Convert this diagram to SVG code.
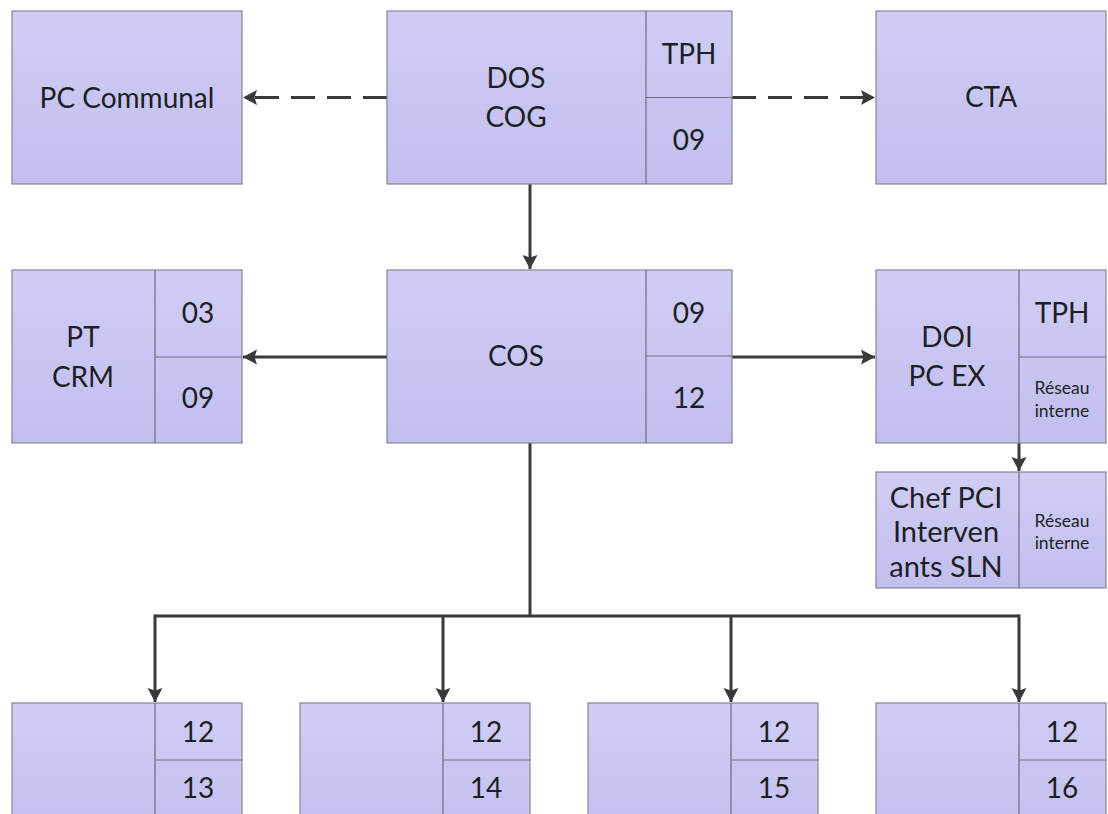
<svg xmlns="http://www.w3.org/2000/svg" width="1108" height="814" viewBox="0 0 1108 814">
  <defs>
    <linearGradient id="fill" x1="0" y1="0" x2="0" y2="1">
      <stop offset="0" stop-color="#d0cdf5"/>
      <stop offset="1" stop-color="#c2bef0"/>
    </linearGradient>
    <marker id="arrow" markerUnits="userSpaceOnUse" markerWidth="18" markerHeight="18" viewBox="0 0 18 18" refX="16" refY="9" orient="auto">
      <path d="M2,1.5 L16,9 L2,16.5 L4.5,9 z" fill="#3a3a3a"/>
    </marker>
  </defs>
  <style>
    .box { fill: url(#fill); stroke: #858596; stroke-width: 1.2; }
    .div { stroke: #6e6e80; stroke-width: 1.2; fill: none; }
    .t { font-family: Lato, "Open Sans", "Liberation Sans", sans-serif; font-size: 28px; fill: #1e1e24; text-anchor: middle; }
    .big { font-size: 29px; }
    .s { font-family: Lato, "Open Sans", "Liberation Sans", sans-serif; font-size: 17.5px; fill: #1e1e24; text-anchor: middle; }
    .c { stroke: #3a3a3a; stroke-width: 3; fill: none; }
    .dash { stroke-dasharray: 24 12; }
  </style>
  <rect width="1108" height="814" fill="#ffffff"/>

  <!-- connectors -->
  <g id="connectors">
    <path class="c dash" d="M387,97.5 L243,97.5" marker-end="url(#arrow)"/>
    <path class="c dash" d="M732,97.5 L875,97.5" marker-end="url(#arrow)"/>
    <path class="c" d="M530,184 L530,269" marker-end="url(#arrow)"/>
    <path class="c" d="M387,357 L243,357" marker-end="url(#arrow)"/>
    <path class="c" d="M732,357 L875,357" marker-end="url(#arrow)"/>
    <path class="c" d="M1019,443 L1019,471" marker-end="url(#arrow)"/>
    <path class="c" d="M530,443 L530,616"/>
    <path class="c" d="M155,616 L1019,616"/>
    <path class="c" d="M155,614.5 L155,702" marker-end="url(#arrow)"/>
    <path class="c" d="M443,616 L443,702" marker-end="url(#arrow)"/>
    <path class="c" d="M731,616 L731,702" marker-end="url(#arrow)"/>
    <path class="c" d="M1019,614.5 L1019,702" marker-end="url(#arrow)"/>
  </g>

  <!-- top row -->
  <g id="pc-communal">
    <rect class="box" x="12" y="11" width="230" height="173"/>
    <text class="t" x="127" y="108">PC Communal</text>
  </g>
  <g id="dos-cog">
    <rect class="box" x="387" y="11" width="345" height="173"/>
    <path class="div" d="M646,11 V184 M646,97.5 H732"/>
    <text class="t" x="516" y="88">DOS</text>
    <text class="t" x="516" y="127">COG</text>
    <text class="t" x="689" y="64">TPH</text>
    <text class="t" x="689" y="150">09</text>
  </g>
  <g id="cta">
    <rect class="box" x="876" y="11" width="230" height="173"/>
    <text class="t" x="991" y="107">CTA</text>
  </g>

  <!-- middle row -->
  <g id="pt-crm">
    <rect class="box" x="12" y="270" width="230" height="173"/>
    <path class="div" d="M155,270 V443 M155,357 H242"/>
    <text class="t" x="83" y="347">PT</text>
    <text class="t" x="83" y="387">CRM</text>
    <text class="t" x="198" y="323">03</text>
    <text class="t" x="198" y="408">09</text>
  </g>
  <g id="cos">
    <rect class="box" x="387" y="270" width="345" height="173"/>
    <path class="div" d="M646,270 V443 M646,356 H732"/>
    <text class="t" x="516" y="366">COS</text>
    <text class="t" x="689" y="323">09</text>
    <text class="t" x="689" y="408">12</text>
  </g>
  <g id="doi-pc-ex">
    <rect class="box" x="876" y="270" width="230" height="173"/>
    <path class="div" d="M1019,270 V443 M1019,357 H1106"/>
    <text class="t" x="947" y="347">DOI</text>
    <text class="t" x="947" y="386">PC EX</text>
    <text class="t" x="1062" y="323">TPH</text>
    <text class="s" x="1062" y="394">Réseau</text>
    <text class="s" x="1062" y="417">interne</text>
  </g>
  <g id="chef-pci">
    <rect class="box" x="876" y="472" width="230" height="116"/>
    <path class="div" d="M1019,472 V588"/>
    <text class="t big" x="946" y="508">Chef PCI</text>
    <text class="t big" x="946" y="542">Interven</text>
    <text class="t big" x="946" y="577">ants SLN</text>
    <text class="s" x="1062" y="527">Réseau</text>
    <text class="s" x="1062" y="549">interne</text>
  </g>

  <!-- bottom row -->
  <g id="team-13">
    <rect class="box" x="12" y="703" width="230" height="140"/>
    <path class="div" d="M155,703 V843 M155,760 H242"/>
    <text class="t" x="198" y="742">12</text>
    <text class="t" x="198" y="798">13</text>
  </g>
  <g id="team-14">
    <rect class="box" x="300" y="703" width="230" height="140"/>
    <path class="div" d="M443,703 V843 M443,760 H530"/>
    <text class="t" x="486" y="742">12</text>
    <text class="t" x="486" y="798">14</text>
  </g>
  <g id="team-15">
    <rect class="box" x="588" y="703" width="230" height="140"/>
    <path class="div" d="M731,703 V843 M731,760 H818"/>
    <text class="t" x="774" y="742">12</text>
    <text class="t" x="774" y="798">15</text>
  </g>
  <g id="team-16">
    <rect class="box" x="876" y="703" width="230" height="140"/>
    <path class="div" d="M1019,703 V843 M1019,760 H1106"/>
    <text class="t" x="1062" y="742">12</text>
    <text class="t" x="1062" y="798">16</text>
  </g>
</svg>
